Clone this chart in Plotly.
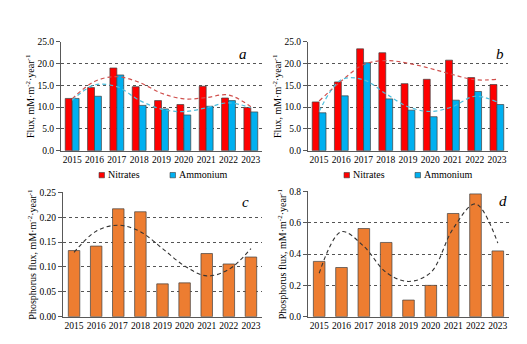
import plotly.graph_objects as go

years = [2015, 2016, 2017, 2018, 2019, 2020, 2021, 2022, 2023]
a_nitrates = [12.0, 14.5, 19.0, 14.7, 11.5, 10.6, 14.8, 12.1, 9.9]
a_ammonium = [12.0, 12.5, 17.4, 10.4, 9.6, 8.2, 10.2, 11.5, 8.9]
b_nitrates = [11.2, 15.8, 23.4, 22.5, 15.4, 16.4, 20.8, 16.8, 15.2]
b_ammonium = [8.7, 12.6, 20.2, 11.9, 9.3, 7.8, 11.6, 13.6, 10.6]
c_phosphorus = [0.133, 0.142, 0.217, 0.211, 0.066, 0.068, 0.127, 0.106, 0.120]
d_phosphorus = [0.353, 0.314, 0.563, 0.474, 0.106, 0.200, 0.659, 0.784, 0.420]

# polynomial trend lines, values at each year
a_nitrates_trend = [11.9, 15.9, 17.0, 15.7, 13.2, 11.9, 12.2, 12.8, 10.1]
a_ammonium_trend = [11.6, 15.1, 14.7, 11.6, 9.55, 8.96, 9.85, 11.0, 9.85]
b_nitrates_trend = [11.4, 16.0, 19.8, 20.7, 20.1, 18.9, 17.5, 16.3, 16.4]
b_ammonium_trend = [9.0, 16.3, 16.3, 13.1, 10.1, 9.0, 10.1, 12.5, 11.2]
c_trend = [0.1295, 0.172, 0.184, 0.171, 0.137, 0.102, 0.082, 0.095, 0.137]
d_trend = [0.277, 0.543, 0.449, 0.283, 0.225, 0.283, 0.563, 0.720, 0.470]

RED = "#FF0000"
BLUE = "#00B0F0"
ORANGE = "#ED7D31"
FONT = "Liberation Serif, Times New Roman, serif"
DASH = "4px,3px"

fig = go.Figure()
line_bar = dict(color="#404040", width=0.7)

panels = [
    ("x", "y", a_nitrates, a_ammonium, a_nitrates_trend, a_ammonium_trend),
    ("x2", "y2", b_nitrates, b_ammonium, b_nitrates_trend, b_ammonium_trend),
]
for xa, ya, nit, amm, nt, at in panels:
    fig.add_trace(go.Bar(x=years, y=nit, name="Nitrates", marker=dict(color=RED, line=line_bar),
                         xaxis=xa, yaxis=ya, offsetgroup="n", showlegend=False))
    fig.add_trace(go.Bar(x=years, y=amm, name="Ammonium", marker=dict(color=BLUE, line=line_bar),
                         xaxis=xa, yaxis=ya, offsetgroup="m", showlegend=False))
    fig.add_trace(go.Scatter(x=years, y=nt, mode="lines",
                             line=dict(color="#D0504D", width=1.2, dash=DASH, shape="spline", smoothing=1),
                             xaxis=xa, yaxis=ya, showlegend=False, hoverinfo="skip"))
    fig.add_trace(go.Scatter(x=years, y=at, mode="lines",
                             line=dict(color="#4FBEDC", width=1.2, dash=DASH, shape="spline", smoothing=1),
                             xaxis=xa, yaxis=ya, showlegend=False, hoverinfo="skip"))

for xa, ya, vals, tr in [("x3", "y3", c_phosphorus, c_trend), ("x4", "y4", d_phosphorus, d_trend)]:
    fig.add_trace(go.Bar(x=years, y=vals, marker=dict(color=ORANGE, line=line_bar), width=0.52,
                         xaxis=xa, yaxis=ya, showlegend=False))
    fig.add_trace(go.Scatter(x=years, y=tr, mode="lines",
                             line=dict(color="#333333", width=1.1, dash=DASH, shape="spline", smoothing=1),
                             xaxis=xa, yaxis=ya, showlegend=False, hoverinfo="skip"))

W, H = 527, 344
def px(x): return x / W
def py(y): return 1 - y / H

xcommon = dict(range=[2014.5, 2023.5], tickvals=years, ticktext=[str(y) for y in years],
               showgrid=False, showline=True, linecolor="#595959", linewidth=1, ticks="",
               tickfont=dict(family=FONT, size=9.5, color="#000"), zeroline=False)
ycommon = dict(showgrid=True, gridcolor="#555555", griddash="dot", gridwidth=1,
               showline=True, linecolor="#595959", linewidth=1, ticks="outside", ticklen=4,
               tickcolor="#595959", tickfont=dict(family=FONT, size=9.5, color="#000"), zeroline=False)

flux_title = "Flux, mM·m<sup>-2</sup>·year<sup>-1</sup>"
p_title = "Phosphorus flux, mM·m<sup>-2</sup>·year<sup>-1</sup>"
tfont = dict(family=FONT, size=10, color="#000")

fig.update_layout(
    width=W, height=H, margin=dict(l=0, r=0, t=0, b=0),
    paper_bgcolor="white", plot_bgcolor="white",
    barmode="group", bargap=0.38, bargroupgap=0,
    xaxis=dict(domain=[px(61), px(262)], anchor="y", **xcommon),
    yaxis=dict(domain=[py(150), py(38)], anchor="x", range=[0, 25], dtick=5, tickformat=".1f",
               title=dict(text=flux_title, font=tfont, standoff=0), **ycommon),
    xaxis2=dict(domain=[px(308), px(508)], anchor="y2", **xcommon),
    yaxis2=dict(domain=[py(150), py(38)], anchor="x2", range=[0, 25], dtick=5, tickformat=".1f",
                title=dict(text=flux_title, font=tfont, standoff=0), **ycommon),
    xaxis3=dict(domain=[px(63), px(262)], anchor="y3", **xcommon),
    yaxis3=dict(domain=[py(321), py(193)], anchor="x3", range=[0, 0.25], dtick=0.05, tickformat=".2f",
                title=dict(text=p_title, font=tfont, standoff=0), **ycommon),
    xaxis4=dict(domain=[px(308), px(509)], anchor="y4", **xcommon),
    yaxis4=dict(domain=[py(321), py(192)], anchor="x4", range=[0, 0.8], dtick=0.2, tickformat=".1f",
                title=dict(text=p_title, font=tfont, standoff=0), **ycommon),
    showlegend=False,
)

# legends under panels a and b
legend_items = [("Nitrates", RED), ("Ammonium", BLUE)]
for x0 in (99, 344):
    for i, (name, col) in enumerate(legend_items):
        sx = x0 + i * 71
        fig.add_shape(type="rect", xref="paper", yref="paper",
                      x0=px(sx), x1=px(sx + 5.5), y0=py(178), y1=py(172.5),
                      fillcolor=col, line=dict(color="#404040", width=0.6))
        fig.add_annotation(text=name, x=px(sx + 6.5), y=py(175), xref="paper", yref="paper",
                           showarrow=False, xanchor="left", yanchor="middle",
                           font=dict(family=FONT, size=10, color="#000"))

for txt, x, y in [("a", 243, 50), ("b", 500, 50), ("c", 245, 203), ("d", 503, 202)]:
    fig.add_annotation(text="<i>" + txt + "</i>", x=px(x), y=py(y), xref="paper", yref="paper",
                       showarrow=False, font=dict(family=FONT, size=15, color="#000"),
                       xanchor="center", yanchor="middle")

fig.write_html("out.html")
